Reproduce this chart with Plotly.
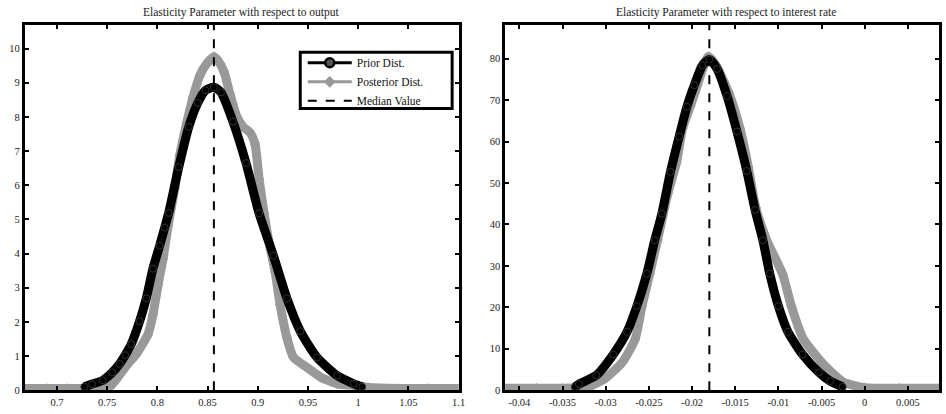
import plotly.graph_objects as go

# ---------------- data ----------------
out_prior_x = [0.7273, 0.735, 0.7456, 0.755, 0.7623, 0.768, 0.774, 0.7823, 0.789, 0.7956,
               0.8023, 0.8073, 0.8113, 0.8213, 0.8313, 0.8403, 0.848, 0.8563, 0.8633, 0.8753,
               0.8883, 0.9013, 0.9156, 0.929, 0.9423, 0.959, 0.979, 0.9956, 1.004]
out_prior_y = [0.10, 0.18, 0.29, 0.52, 0.77, 1.03, 1.35, 2.02, 2.69, 3.56,
               4.23, 4.76, 5.19, 6.53, 7.71, 8.41, 8.78, 8.87, 8.72, 7.86,
               6.65, 5.18, 3.94, 2.69, 1.73, 0.96, 0.43, 0.19, 0.10]

out_post_x = [0.668, 0.69, 0.71, 0.73, 0.745, 0.7523, 0.759, 0.7656, 0.772, 0.779,
              0.7906, 0.7956, 0.8006, 0.8056, 0.8106, 0.8173, 0.8223, 0.8293, 0.8353, 0.8423,
              0.8493, 0.8563, 0.8603, 0.8663, 0.8723, 0.8793, 0.8853, 0.8923, 0.8973, 0.9013,
              0.9063, 0.9106, 0.9173, 0.9223, 0.929, 0.9356, 0.949, 0.9623, 0.979, 0.9956,
              1.01, 1.04, 1.07, 1.1]
out_post_y = [0.05, 0.05, 0.05, 0.05, 0.06, 0.10, 0.32, 0.58, 0.82, 1.06,
              1.63, 2.21, 3.07, 3.84, 4.80, 5.90, 6.88, 7.83, 8.55, 9.21,
              9.56, 9.76, 9.65, 9.33, 8.67, 8.00, 7.71, 7.54, 7.20, 6.19,
              5.18, 4.42, 3.46, 2.50, 1.54, 0.96, 0.67, 0.39, 0.19, 0.14,
              0.08, 0.05, 0.05, 0.05]
out_median = 0.8563

ir_prior_x = [-0.03357, -0.0331, -0.03109, -0.02914, -0.02753, -0.02639, -0.02524, -0.02432,
              -0.0235, -0.0225, -0.0215, -0.0206, -0.01974, -0.0188, -0.0180, -0.0171,
              -0.01595, -0.0148, -0.01366, -0.0127, -0.0118, -0.0110, -0.0100, -0.0089,
              -0.0072, -0.0053, -0.0040, -0.00255]
ir_prior_y = [0.8, 1.5, 3.6, 8.6, 14.1, 20.3, 28.1, 36.2,
              42.6, 52.7, 61.2, 68.4, 73.6, 78.4, 79.8, 77.5,
              71.0, 62.4, 52.9, 43.5, 36.2, 28.1, 20.3, 14.1,
              8.6, 4.3, 2.2, 0.8]

ir_post_x = [-0.04164, -0.038, -0.035, -0.0330, -0.0320, -0.0301, -0.0281, -0.0266,
             -0.0258, -0.0249, -0.0240, -0.0228, -0.0218, -0.0211, -0.0202, -0.0194,
             -0.0186, -0.0181, -0.0172, -0.0157, -0.01446, -0.0135, -0.01263, -0.01136,
             -0.00953, -0.0085, -0.0071, -0.0055, -0.00448, -0.0025, 0.0, 0.004, 0.0086]
ir_post_y = [0.5, 0.5, 0.5, 0.6, 0.8, 2.8, 6.7, 12.3,
             20.3, 28.1, 36.2, 47.5, 55.0, 63.2, 68.5, 73.5,
             78.5, 80.5, 78.3, 71.5, 63.2, 54.0, 44.1, 36.2,
             28.1, 20.3, 12.3, 8.0, 5.6, 2.0, 0.6, 0.5, 0.5]
ir_median = -0.0180

out_xticks = [0.7, 0.75, 0.8, 0.85, 0.9, 0.95, 1.0, 1.05, 1.1]
out_xlabels = ["0.7", "0.75", "0.8", "0.85", "0.9", "0.95", "1", "1.05", "1.1"]
out_yticks = [0, 1, 2, 3, 4, 5, 6, 7, 8, 9, 10]
ir_xticks = [-0.04, -0.035, -0.03, -0.025, -0.02, -0.015, -0.01, -0.005, 0.0, 0.005]
ir_xlabels = ["-0.04", "-0.035", "-0.03", "-0.025", "-0.02", "-0.015", "-0.01", "-0.005", "0", "0.005"]
ir_yticks = [0, 10, 20, 30, 40, 50, 60, 70, 80]

titles = ["Elasticity Parameter with respect to output",
          "Elasticity Parameter with respect to interest rate"]
names = ["Prior Dist.", "Posterior Dist.", "Median Value"]

# ---------------- styling ----------------
SERIF = "Liberation Serif, DejaVu Serif, serif"
GRAY = "#999999"
W, H = 946, 414
top_px, bot_px = 25, 396
ydom = [(H - bot_px) / H, (H - top_px) / H]

fig = go.Figure()

def add_panel(px, py, qx, qy, med, ymax, xa, ya):
    fig.add_trace(go.Scatter(x=qx, y=qy, mode="lines+markers", name=names[1],
                             line=dict(color=GRAY, width=9, shape="spline", smoothing=0.6),
                             marker=dict(symbol="diamond", size=8, color=GRAY),
                             xaxis=xa, yaxis=ya, showlegend=False))
    fig.add_trace(go.Scatter(x=px, y=py, mode="lines+markers", name=names[0],
                             line=dict(color="black", width=9, shape="spline", smoothing=0.6),
                             marker=dict(symbol="circle", size=7, color="black",
                                         line=dict(color="#333", width=1)),
                             xaxis=xa, yaxis=ya, showlegend=False))
    fig.add_trace(go.Scatter(x=[med, med], y=[0, ymax], mode="lines", name=names[2],
                             line=dict(color="black", width=2, dash="dash"),
                             xaxis=xa, yaxis=ya, showlegend=False))

out_ymax = 10.70
ir_ymax = 88.2
add_panel(out_prior_x, out_prior_y, out_post_x, out_post_y, out_median, out_ymax, "x", "y")
add_panel(ir_prior_x, ir_prior_y, ir_post_x, ir_post_y, ir_median, ir_ymax, "x2", "y2")

# legend entries (thin line + marker, as in the reference legend)
fig.add_trace(go.Scatter(x=[None], y=[None], mode="lines+markers", name=names[0],
                         line=dict(color="black", width=3),
                         marker=dict(symbol="circle", size=9, color="#555",
                                     line=dict(color="black", width=2.5)),
                         legendrank=1))
fig.add_trace(go.Scatter(x=[None], y=[None], mode="lines+markers", name=names[1],
                         line=dict(color=GRAY, width=3),
                         marker=dict(symbol="diamond", size=9, color=GRAY),
                         legendrank=2))
fig.add_trace(go.Scatter(x=[None], y=[None], mode="lines", name=names[2],
                         line=dict(color="black", width=2, dash="dash"),
                         legendrank=3))

axis_common = dict(showline=True, linewidth=3, linecolor="black", mirror="ticks",
                   ticks="inside", ticklen=4, tickwidth=2, tickcolor="black",
                   showgrid=False, zeroline=False,
                   tickfont=dict(family=SERIF, size=10.5, color="#222"))

fig.update_layout(
    width=W, height=H,
    margin=dict(l=0, r=0, t=0, b=0),
    paper_bgcolor="white", plot_bgcolor="white",
    xaxis=dict(domain=[25 / W, 462 / W], range=[0.668, 1.1], tickvals=out_xticks,
               ticktext=out_xlabels, anchor="y", **axis_common),
    yaxis=dict(domain=ydom, range=[0, out_ymax], tickvals=out_yticks, anchor="x", **axis_common),
    xaxis2=dict(domain=[509 / W, 1.0], range=[-0.04164, 0.0086], tickvals=ir_xticks,
                ticktext=ir_xlabels, anchor="y2", **axis_common),
    yaxis2=dict(domain=ydom, range=[0, ir_ymax], tickvals=ir_yticks, anchor="x2", **axis_common),
    legend=dict(x=305 / W, xanchor="left", y=(H - 49) / H, yanchor="top",
                bgcolor="rgba(0,0,0,0)", borderwidth=0,
                font=dict(family=SERIF, size=11.5, color="#111"),
                itemwidth=44, tracegroupgap=0),
    showlegend=True,
)

# legend frame (legend entries sit inside it)
fig.add_shape(type="rect", xref="paper", yref="paper",
              x0=302.5 / W, x1=455.5 / W, y0=(H - 110) / H, y1=(H - 53) / H,
              line=dict(color="black", width=3), fillcolor="white", layer="above")

fig.add_annotation(text=titles[0], x=(25 + 462) / 2 / W, y=(H - 13) / H, xref="paper", yref="paper",
                   xanchor="center", yanchor="middle",
                   showarrow=False, font=dict(family=SERIF, size=11.5, color="#222"))
fig.add_annotation(text=titles[1], x=731 / W, y=(H - 13) / H, xref="paper", yref="paper",
                   xanchor="center", yanchor="middle",
                   showarrow=False, font=dict(family=SERIF, size=11.5, color="#222"))

fig.write_html("out.html")
